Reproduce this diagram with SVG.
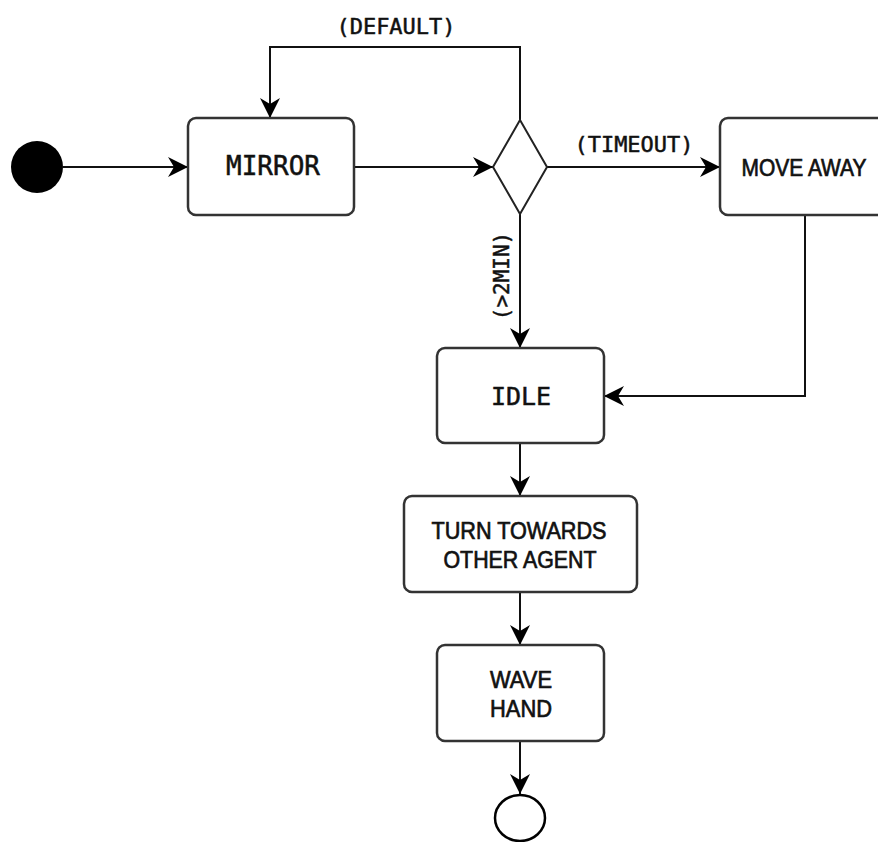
<svg xmlns="http://www.w3.org/2000/svg" width="878" height="842" viewBox="0 0 878 842">
<style>
.box{fill:#fff;stroke:#333;stroke-width:2.5}
.edge{fill:none;stroke:#111;stroke-width:2}
.mono{font-family:"DejaVu Sans Mono","Liberation Mono",monospace;fill:#111;stroke:#111;stroke-width:0.5;text-anchor:middle}
.sans{font-family:"Liberation Sans",Arial,sans-serif;fill:#111;stroke:#111;stroke-width:0.7;text-anchor:middle;font-size:24px}
</style>
<defs>
<marker id="arr" viewBox="0 0 20 20" refX="20" refY="10" markerWidth="20" markerHeight="20" markerUnits="userSpaceOnUse" orient="auto">
<path d="M0,0 L20,10 L0,20 L6,10 Z" fill="#000"/>
</marker>
</defs>
<rect width="878" height="842" fill="#fff"/>
<g id="connectors">
<line class="edge" x1="63" y1="167" x2="188" y2="167" marker-end="url(#arr)"/>
<line class="edge" x1="354" y1="167" x2="493" y2="167" marker-end="url(#arr)"/>
<polyline class="edge" points="520,120 520,47 270,47 270,118" marker-end="url(#arr)"/>
<line class="edge" x1="547" y1="167" x2="720" y2="167" marker-end="url(#arr)"/>
<line class="edge" x1="520" y1="214" x2="520" y2="348" marker-end="url(#arr)"/>
<polyline class="edge" points="805,215 805,396 604,396" marker-end="url(#arr)"/>
<line class="edge" x1="520" y1="443" x2="520" y2="496" marker-end="url(#arr)"/>
<line class="edge" x1="520" y1="592" x2="520" y2="645" marker-end="url(#arr)"/>
<line class="edge" x1="520" y1="741" x2="520" y2="794" marker-end="url(#arr)"/>
<text class="mono" x="396" y="34" font-size="22">(DEFAULT)</text>
<text class="mono" x="634" y="152" font-size="22">(TIMEOUT)</text>
<text class="mono" font-size="21" transform="translate(509,276) rotate(-90)">(&gt;2MIN)</text>
</g>
<g id="start"><circle cx="37" cy="167" r="26" fill="#000"/></g>
<g id="mirror"><rect class="box" x="188" y="118" width="166" height="97" rx="8"/><text class="mono" x="273" y="175" font-size="26">MIRROR</text></g>
<g id="decision"><polygon points="520,120 547,167 520,214 493,167" fill="#fff" stroke="#222" stroke-width="2"/></g>
<g id="moveaway"><rect class="box" x="720" y="118" width="170" height="97" rx="8"/><text class="sans" x="804" y="176" textLength="125" lengthAdjust="spacingAndGlyphs">MOVE AWAY</text></g>
<g id="idle"><rect class="box" x="437" y="348" width="167" height="95" rx="8"/><text class="mono" x="521" y="405" font-size="25">IDLE</text></g>
<g id="turn"><rect class="box" x="404" y="496" width="233" height="96" rx="8"/><text class="sans" x="519" y="539" textLength="175" lengthAdjust="spacingAndGlyphs">TURN TOWARDS</text><text class="sans" x="520" y="568" textLength="153" lengthAdjust="spacingAndGlyphs">OTHER AGENT</text></g>
<g id="wave"><rect class="box" x="437" y="645" width="167" height="96" rx="8"/><text class="sans" x="521" y="688" textLength="62" lengthAdjust="spacingAndGlyphs">WAVE</text><text class="sans" x="521" y="717" textLength="62" lengthAdjust="spacingAndGlyphs">HAND</text></g>
<g id="end"><ellipse cx="520" cy="818" rx="25" ry="23" fill="#fff" stroke="#000" stroke-width="2.5"/></g>
</svg>
